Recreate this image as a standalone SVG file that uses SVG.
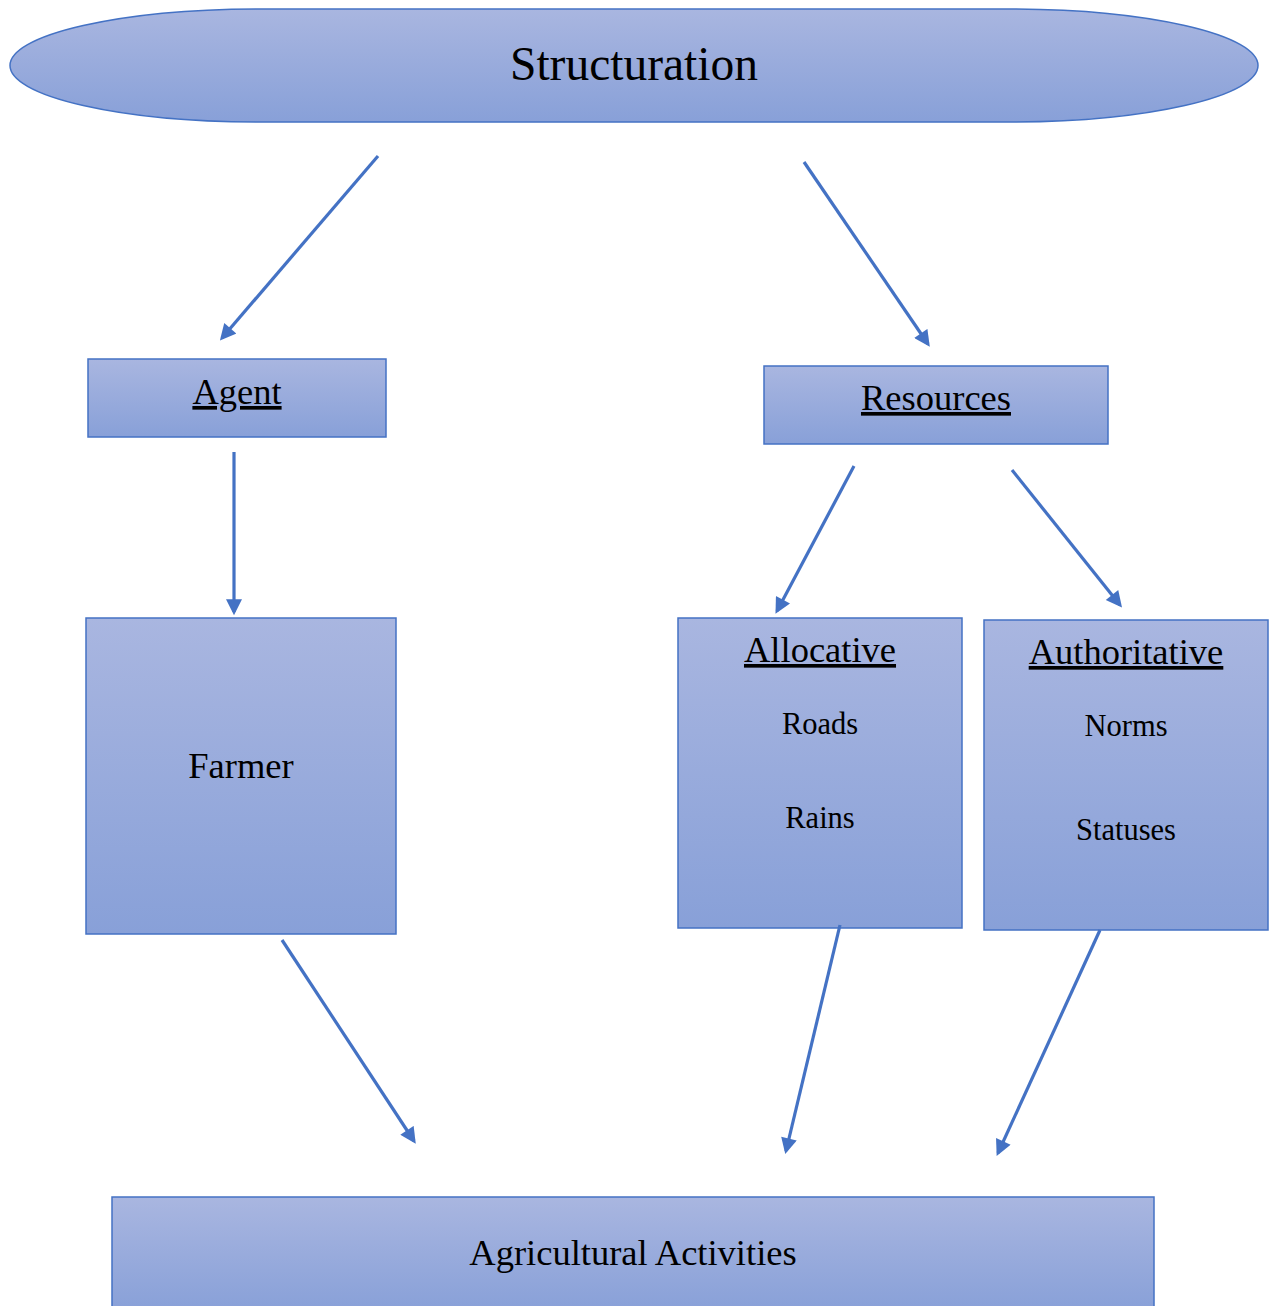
<svg xmlns="http://www.w3.org/2000/svg" width="1270" height="1306" viewBox="0 0 1270 1306">
<defs>
<linearGradient id="g" x1="0" y1="0" x2="0" y2="1">
<stop offset="0" stop-color="#a9b6e0"/>
<stop offset="1" stop-color="#88a0d8"/>
</linearGradient>
<marker id="ah" viewBox="0 0 10 10" refX="8" refY="5" markerWidth="5.5" markerHeight="5" orient="auto" markerUnits="strokeWidth">
<path d="M0,0 L10,5 L0,10 z" fill="#4472c4"/>
</marker>
</defs>
<style>
.n{fill:url(#g);stroke:#4472c4;stroke-width:1.5}
.t{font-family:"Liberation Serif","Times New Roman",serif;fill:#000;text-anchor:middle}
.u{text-decoration:underline}
.c{stroke:#4472c4;stroke-width:3.2;fill:none;marker-end:url(#ah)}
</style>
<rect width="1270" height="1306" fill="#fff"/>
<g id="structuration">
<path class="n" d="M260,9 L1008,9 A250,56.5 0 0 1 1008,122 L260,122 A250,56.5 0 0 1 260,9 z"/>
<text class="t" x="634" y="80" font-size="47.5">Structuration</text>
</g>
<g id="agent">
<rect class="n" x="88" y="359" width="298" height="78"/>
<text class="t u" x="237" y="404" font-size="36.5">Agent</text>
</g>
<g id="resources">
<rect class="n" x="764" y="366" width="344" height="78"/>
<text class="t u" x="936" y="410" font-size="36.5">Resources</text>
</g>
<g id="farmer">
<rect class="n" x="86" y="618" width="310" height="316"/>
<text class="t" x="241" y="778" font-size="36.5">Farmer</text>
</g>
<g id="allocative">
<rect class="n" x="678" y="618" width="284" height="310"/>
<text class="t u" x="820" y="662" font-size="36.5">Allocative</text>
<text class="t" x="820" y="734" font-size="30.5">Roads</text>
<text class="t" x="820" y="828" font-size="30.5">Rains</text>
</g>
<g id="authoritative">
<rect class="n" x="984" y="620" width="284" height="310"/>
<text class="t u" x="1126" y="664" font-size="36.5">Authoritative</text>
<text class="t" x="1126" y="736" font-size="30.5">Norms</text>
<text class="t" x="1126" y="840" font-size="30.5">Statuses</text>
</g>
<g id="agricultural">
<rect class="n" x="112" y="1197" width="1042" height="115"/>
<text class="t" x="633" y="1265" font-size="36.5">Agricultural Activities</text>
</g>
<g id="connectors">
<line class="c" x1="378" y1="156" x2="222" y2="338"/>
<line class="c" x1="804" y1="162" x2="928" y2="344"/>
<line class="c" x1="234" y1="452" x2="234" y2="612"/>
<line class="c" x1="854" y1="466" x2="777" y2="611"/>
<line class="c" x1="1012" y1="470" x2="1120" y2="605"/>
<line class="c" x1="282" y1="940" x2="414" y2="1141"/>
<line class="c" x1="840" y1="925" x2="786" y2="1151"/>
<line class="c" x1="1100" y1="930" x2="998" y2="1153"/>
</g>
</svg>
